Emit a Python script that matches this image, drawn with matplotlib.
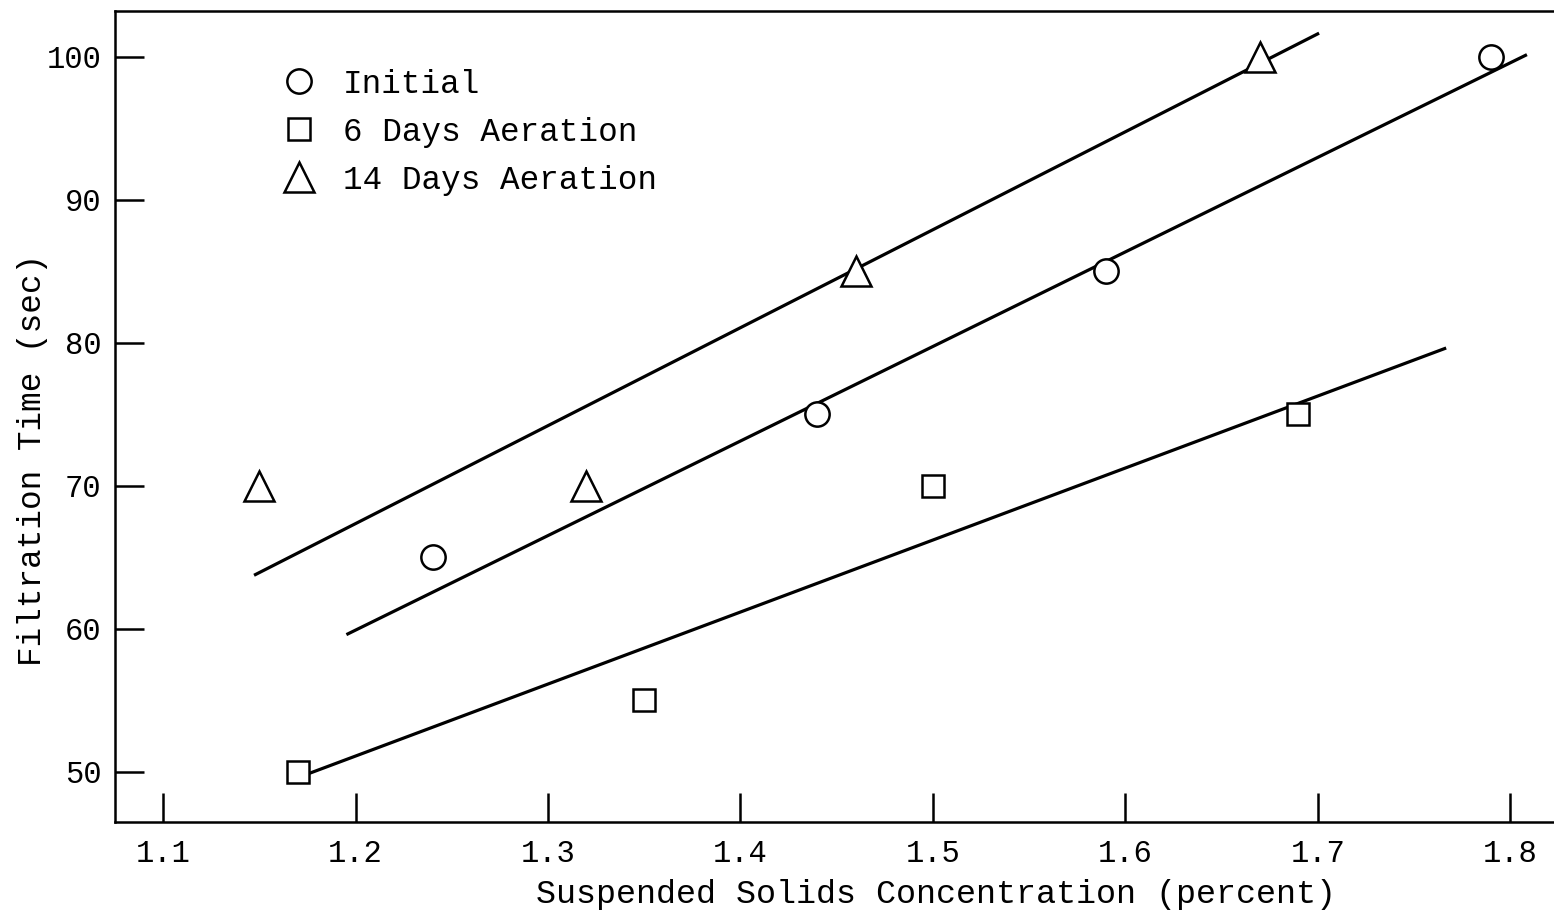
import matplotlib
matplotlib.use("Agg")
import matplotlib.pyplot as plt

# measured points
initial_x = [1.24, 1.44, 1.59, 1.79]
initial_y = [65, 75, 85, 100]
aer6_x = [1.17, 1.35, 1.50, 1.69]
aer6_y = [50, 55, 70, 75]
aer14_x = [1.15, 1.32, 1.46, 1.67]
aer14_y = [70, 70, 85, 100]

# fitted lines (end points)
fit_initial_x = [1.196, 1.808]
fit_initial_y = [59.65, 100.1]
fit_aer6_x = [1.170, 1.766]
fit_aer6_y = [49.6, 79.6]
fit_aer14_x = [1.148, 1.700]
fit_aer14_y = [63.8, 101.6]

labels = ["Initial", "6 Days Aeration", "14 Days Aeration"]
xticks = [1.1, 1.2, 1.3, 1.4, 1.5, 1.6, 1.7, 1.8]
yticks = [50, 60, 70, 80, 90, 100]

plt.rcParams['font.family'] = ['Liberation Mono', 'DejaVu Sans Mono']

fig = plt.figure(figsize=(15.54, 9.16), dpi=100)
ax = fig.add_axes([115/1554, 1 - 822/916, 1438/1554, 811/916])

lw = 2.3
ax.plot(fit_aer14_x, fit_aer14_y, color='black', lw=lw, zorder=2)
ax.plot(fit_initial_x, fit_initial_y, color='black', lw=lw, zorder=2)
ax.plot(fit_aer6_x, fit_aer6_y, color='black', lw=lw, zorder=2)

mk = dict(linestyle='none', markerfacecolor='white', markeredgecolor='black',
          markeredgewidth=1.8, zorder=3)
ax.plot(initial_x, initial_y, marker='o', markersize=17.5, label=labels[0], **mk)
ax.plot(aer6_x, aer6_y, marker='s', markersize=16, label=labels[1], **mk)
ax.plot(aer14_x, aer14_y, marker='^', markersize=21, label=labels[2], **mk)

ax.set_xlim(1.075, 1.8223)
ax.set_ylim(46.5, 103.2)
ax.set_xticks(xticks)
ax.set_yticks(yticks)
ax.set_xticklabels([f"{t:.1f}" for t in xticks])
ax.set_yticklabels([str(t) for t in yticks])

ax.spines['right'].set_visible(False)
for s in ['left', 'bottom', 'top']:
    ax.spines[s].set_linewidth(1.8)

ax.tick_params(axis='both', direction='in', length=21, width=1.8, labelsize=22)
ax.tick_params(axis='x', pad=12)
ax.tick_params(axis='y', pad=10)

ax.set_xlabel("Suspended Solids Concentration (percent)", fontsize=24)
ax.xaxis.set_label_coords(0.571, -0.07)
ax.set_ylabel("Filtration Time (sec)", fontsize=23.5)
ax.yaxis.set_label_coords(-0.0465, 0.446)

leg = ax.legend(loc='upper left', bbox_to_anchor=(0.105, 0.945), frameon=False,
                fontsize=23.5, handletextpad=0.75, labelspacing=0.52,
                handlelength=1.2, borderaxespad=0)

fig.savefig("out.png", dpi=100)
